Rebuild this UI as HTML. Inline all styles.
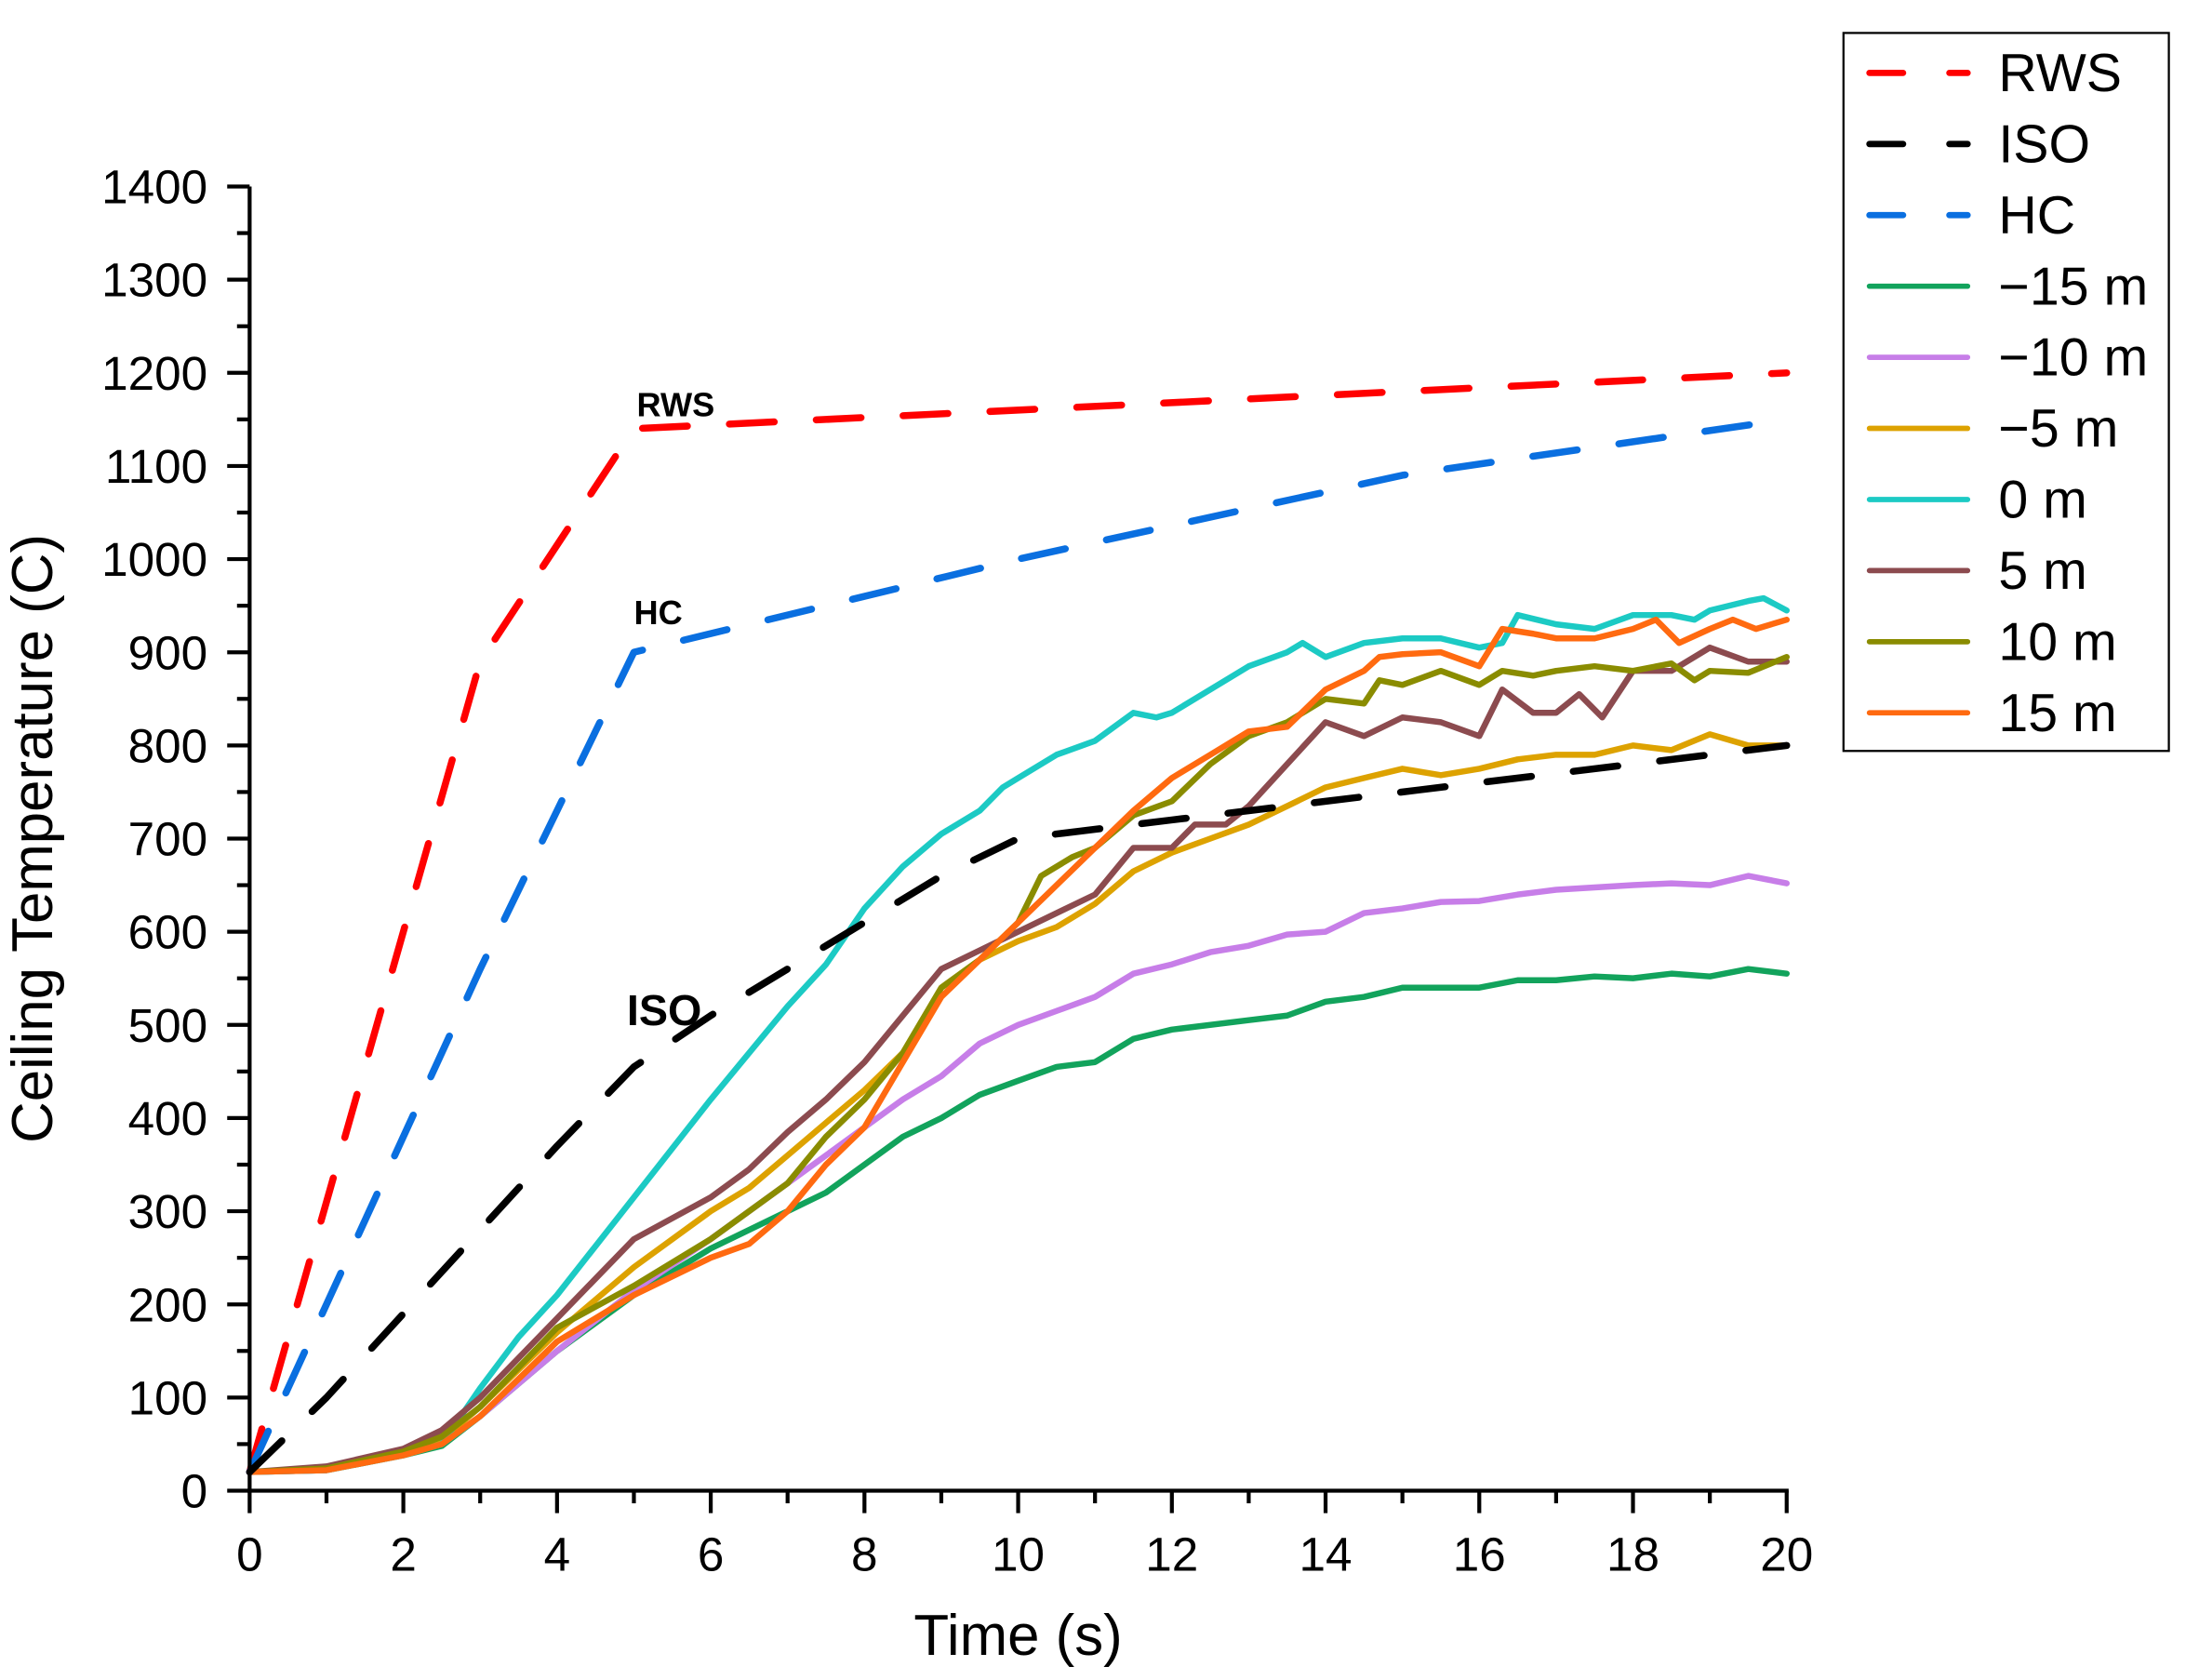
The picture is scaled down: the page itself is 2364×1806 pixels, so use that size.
<!DOCTYPE html>
<html><head><meta charset="utf-8"><style>
html,body{margin:0;padding:0;background:#fff;}
svg{display:block;}
text{font-family:"Liberation Sans",Arial,sans-serif;}
</style></head><body>
<svg id="chart" width="2364" height="1806" viewBox="0 0 1568 1198" preserveAspectRatio="none" xmlns="http://www.w3.org/2000/svg">
<g id="plot"></g>
<g id="axes"></g>
<text x="37" y="598" font-size="41" text-anchor="middle" transform="rotate(-90 37 598)">Ceiling Temperature (C)</text>
<text x="726" y="1180" font-size="41" text-anchor="middle">Time (s)</text>
<text x="454" y="297" font-size="24" font-weight="bold">RWS</text>
<text x="452" y="445" font-size="24" font-weight="bold">HC</text>
<text x="447" y="731" font-size="31" font-weight="bold">ISO</text>
<g id="legend"></g>
</svg>
<script>
const xTicks = [0,2,4,6,8,10,12,14,16,18,20];
const yTicks = [0,100,200,300,400,500,600,700,800,900,1000,1100,1200,1300,1400];
const seriesNames = ["RWS","ISO","HC","\u221215 m","\u221210 m","\u22125 m","0 m","5 m","10 m","15 m"];
const rwsT = [0,3,5,20];
const rwsV = [20,890,1140,1200];
const isoT = [0,1,2,3,4,5,6,7,8,9,10,11,12,13,14,16,18,20];
const isoV = [20,100,190,280,370,455,510,560,610,660,700,710,720,730,740,760,780,800];
const hcT = [0,1,2,3,4,5,10,15,20];
const hcV = [20,200,380,560,730,900,1000,1090,1150];
const m15T = [0,1,2,2.5,3,4,5,6,7,7.5,8,8.5,9,9.5,10,10.5,11,11.5,12,13,13.5,14,14.5,15,16,16.5,17,17.5,18,18.5,19,19.5,20];
const m15V = [20,22,38,48,80,150,210,260,300,320,350,380,400,425,440,455,460,485,495,505,510,525,530,540,540,548,548,552,550,555,552,560,555];
const m10T = [0,1,2,2.5,3,4,5,6,7,7.5,8,8.5,9,9.5,10,10.5,11,11.5,12,12.5,13,13.5,14,14.5,15,15.5,16,16.5,17,18,18.5,19,19.5,20];
const m10V = [20,22,40,50,80,150,215,270,330,360,390,420,445,480,500,515,530,555,565,578,585,597,600,620,625,632,633,640,645,650,652,650,660,652];
const m5T = [0,1,2,2.5,3,4,5,6,6.5,7,7.5,8,8.5,9,9.5,10,10.5,11,11.5,12,12.5,13,13.5,14,14.5,15,15.5,16,16.5,17,17.5,18,18.5,19,19.5,20];
const m5V = [20,24,42,55,90,170,240,300,325,360,395,430,470,540,570,590,605,630,665,685,700,715,735,755,765,775,768,775,785,790,790,800,795,812,800,800];
const p0T = [0,1,2,2.5,3,3.5,4,5,6,7,7.5,8,8.5,9,9.5,9.8,10,10.5,11,11.5,11.8,12,12.5,13,13.5,13.7,14,14.5,15,15.5,16,16.3,16.5,17,17.5,18,18.5,18.8,19,19.5,19.7,20];
const p0V = [20,22,38,50,110,165,210,315,420,520,565,625,670,705,730,755,765,790,805,835,830,835,860,885,900,910,895,910,915,915,905,910,940,930,925,940,940,935,945,955,958,945];
const p5T = [0,1,2,2.5,3,4,5,6,6.5,7,7.5,8,8.5,9,9.5,10,10.5,11,11.5,12,12.3,12.7,13,13.5,14,14.5,15,15.5,16,16.3,16.7,17,17.3,17.6,18,18.5,19,19.5,20];
const p5V = [20,26,45,65,100,185,270,315,345,385,420,460,510,560,580,600,620,640,690,690,715,715,735,780,825,810,830,825,810,860,835,835,855,830,880,880,905,890,890];
const p10T = [0,1,2,2.5,3,4,5,6,7,7.5,8,8.5,9,9.5,10,10.3,10.7,11,11.5,12,12.5,13,13.5,14,14.5,14.7,15,15.5,16,16.3,16.7,17,17.5,18,18.5,18.8,19,19.5,20];
const p10V = [20,24,42,58,90,175,220,270,330,380,420,470,540,570,610,660,680,690,725,740,780,810,825,850,845,870,865,880,865,880,875,880,885,880,888,870,880,878,895];
const p15T = [0,1,2,2.5,3,4,5,6,6.5,7,7.5,8,8.5,9,9.5,10,10.5,11,11.5,12,12.5,13,13.5,14,14.5,14.7,15,15.5,16,16.3,16.7,17,17.5,18,18.3,18.6,19,19.3,19.6,20];
const p15V = [20,22,38,50,80,160,210,250,265,300,350,390,460,530,570,610,650,690,730,765,790,815,820,860,880,895,898,900,885,925,920,915,915,925,935,910,925,935,925,935];

const NS = "http://www.w3.org/2000/svg";
const X0 = 178, X1 = 1274, Y0 = 1063, Y1 = 133;
function sx(t){ return X0 + (t - 0) / 20 * (X1 - X0); }
function sy(v){ return Y0 - (v - 0) / 1400 * (Y0 - Y1); }
function mk(tag, attrs, parent){ const e = document.createElementNS(NS, tag); for (const k in attrs) e.setAttribute(k, attrs[k]); parent.appendChild(e); return e; }

const plot = document.getElementById('plot');
const axes = document.getElementById('axes');
const legend = document.getElementById('legend');

const series = [
  {T:rwsT, V:rwsV, c:"#ff0000", dash:true, name:"rws-line"},
  {T:isoT, V:isoV, c:"#000000", dash:true, name:"iso-line"},
  {T:hcT, V:hcV, c:"#0a6fe0", dash:true, name:"hc-line"},
  {T:m15T, V:m15V, c:"#12a35c", dash:false, name:"minus-15m-line"},
  {T:m10T, V:m10V, c:"#c77ee8", dash:false, name:"minus-10m-line"},
  {T:m5T, V:m5V, c:"#dda200", dash:false, name:"minus-5m-line"},
  {T:p0T, V:p0V, c:"#1ccac4", dash:false, name:"0m-line"},
  {T:p5T, V:p5V, c:"#8c4b4f", dash:false, name:"5m-line"},
  {T:p10T, V:p10V, c:"#8a8c00", dash:false, name:"10m-line"},
  {T:p15T, V:p15V, c:"#ff6a10", dash:false, name:"15m-line"}
];
const order = [3,4,5,6,7,8,9,0,2,1];
order.forEach(i => {
  const s = series[i];
  const d = s.T.map((t,j) => (j ? "L" : "M") + sx(t).toFixed(1) + "," + sy(s.V[j]).toFixed(1)).join(" ");
  const p = mk('path', {d:d, fill:"none", stroke:s.c, "stroke-width": s.dash ? 5 : 4.3, "stroke-linejoin":"round", "stroke-linecap":"round"}, plot);
  if (s.dash) p.setAttribute('stroke-dasharray', "32 30");
  
  
});

const ya = mk('line', {x1:X0, y1:Y1, x2:X0, y2:Y0+1.5, stroke:"#000", "stroke-width":2.8}, axes);


const xa = mk('line', {x1:X0-1.5, y1:Y0, x2:X1+1.4, y2:Y0, stroke:"#000", "stroke-width":2.8}, axes);


for (let v = 0; v <= 1400; v += 50) {
  const major = v % 100 === 0;
  mk('line', {x1:X0 - (major ? 16 : 9), y1:sy(v), x2:X0, y2:sy(v), stroke:"#000", "stroke-width":2.8}, axes);
}
yTicks.forEach(v => {
  const t = mk('text', {x:148, y:sy(v)+12, "font-size":34, "text-anchor":"end"}, axes);
  t.textContent = v;
  
  
});
for (let t = 0; t <= 20; t += 1) {
  const major = t % 2 === 0;
  mk('line', {x1:sx(t), y1:Y0, x2:sx(t), y2:Y0 + (major ? 16 : 9), stroke:"#000", "stroke-width":2.8}, axes);
}
xTicks.forEach(t => {
  const e = mk('text', {x:sx(t), y:1120, "font-size":34, "text-anchor":"middle"}, axes);
  e.textContent = t;
  
  
});

const lb = mk('rect', {x:1314.5, y:23.5, width:232, height:512, fill:"#fff", stroke:"#000", "stroke-width":1.5}, legend);


series.forEach((s, i) => {
  const y = 52 + i * 50.7;
  const g = mk('g', {}, legend);
  
  
  const l = mk('line', {x1:1333, y1:y, x2:1403, y2:y, stroke:s.c, "stroke-width":s.dash ? 4.5 : 3.8, "stroke-linecap":"round"}, g);
  if (s.dash) l.setAttribute('stroke-dasharray', "24 33");
  const t = mk('text', {x:1425, y:y+13, "font-size":38}, g);
  t.textContent = seriesNames[i];
});
</script>
</body></html>
